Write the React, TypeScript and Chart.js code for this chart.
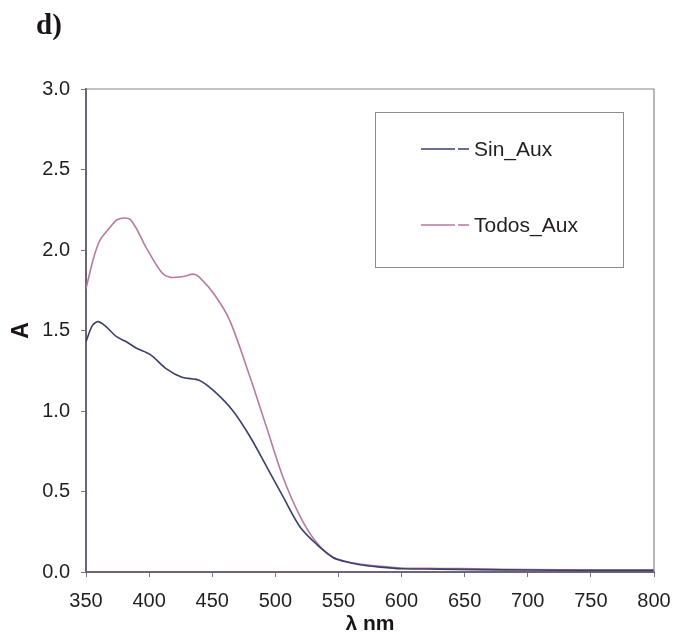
import React, { useEffect, useRef } from "react";
import { Chart, registerables } from "chart.js";

Chart.register(...registerables);

const sinWavelengths = [350, 355, 359.5, 365, 374.5, 382, 390, 401, 414, 426, 440, 452, 466.5, 480, 493.4, 506, 519.6, 533, 545.7, 555, 567, 583, 600, 630, 660, 700, 750, 800];
const sinValues = [1.43, 1.53, 1.555, 1.53, 1.46, 1.43, 1.39, 1.35, 1.26, 1.21, 1.19, 1.12, 1.0, 0.84, 0.65, 0.47, 0.28, 0.17, 0.09, 0.065, 0.045, 0.03, 0.02, 0.018, 0.015, 0.012, 0.01, 0.01];

const todosWavelengths = [350, 356, 361, 369, 375, 385, 398, 410, 417, 427, 435, 440, 452, 464, 480, 493, 506, 520, 533, 546, 556, 567, 583, 600, 630, 660, 700, 750, 800];
const todosValues = [1.76, 1.95, 2.06, 2.14, 2.19, 2.19, 2.01, 1.86, 1.83, 1.835, 1.85, 1.83, 1.72, 1.56, 1.21, 0.9, 0.59, 0.34, 0.18, 0.09, 0.065, 0.05, 0.035, 0.025, 0.022, 0.02, 0.015, 0.012, 0.012];

const seriesNames = ["Sin_Aux", "Todos_Aux"];
const seriesColors = ["#3b3f6e", "#b87a9f"];
const xTitle = "λ nm";
const yTitle = "A";
const panelLabel = "d)";

const FONT = "Arial, 'Liberation Sans', sans-serif";

export default function App() {
  const ref = useRef<HTMLCanvasElement | null>(null);
  useEffect(() => {
    if (!ref.current) return;
    const framePlugin = {
      id: "frameAndLegend",
      afterDraw(chart: any) {
        const { ctx, chartArea } = chart;
        ctx.save();
        // top and right border
        ctx.strokeStyle = "#8a8590";
        ctx.lineWidth = 1.2;
        ctx.beginPath();
        ctx.moveTo(chartArea.left, chartArea.top);
        ctx.lineTo(chartArea.right, chartArea.top);
        ctx.lineTo(chartArea.right, chartArea.bottom);
        ctx.stroke();
        // legend box
        ctx.strokeStyle = "#8c8c8c";
        ctx.lineWidth = 1;
        ctx.strokeRect(375.5, 112.5, 248, 155);
        const ys = [149, 225];
        ctx.font = `21px ${FONT}`;
        ctx.textBaseline = "middle";
        ctx.textAlign = "left";
        seriesNames.forEach((name, i) => {
          ctx.strokeStyle = seriesColors[i];
          ctx.lineWidth = 1.5;
          ctx.beginPath();
          ctx.moveTo(421, ys[i]);
          ctx.lineTo(455, ys[i]);
          ctx.moveTo(458, ys[i]);
          ctx.lineTo(469, ys[i]);
          ctx.stroke();
          ctx.fillStyle = "#231f20";
          ctx.fillText(name, 474, ys[i] + 1);
        });
        // panel label
        ctx.font = "bold 29px 'Liberation Serif', 'Times New Roman', serif";
        ctx.fillStyle = "#1a1416";
        ctx.textBaseline = "alphabetic";
        ctx.fillText(panelLabel, 36, 34);
        ctx.restore();
      },
    };
    const chart = new Chart(ref.current, {
      type: "scatter",
      data: {
        datasets: [
          {
            label: seriesNames[0],
            data: sinWavelengths.map((x, i) => ({ x, y: sinValues[i] })),
            showLine: true,
            borderColor: seriesColors[0],
            borderWidth: 1.6,
            pointRadius: 0,
            tension: 0.3,
          },
          {
            label: seriesNames[1],
            data: todosWavelengths.map((x, i) => ({ x, y: todosValues[i] })),
            showLine: true,
            borderColor: seriesColors[1],
            borderWidth: 1.6,
            pointRadius: 0,
            tension: 0.3,
          },
        ],
      },
      plugins: [framePlugin],
      options: {
        animation: false,
        responsive: true,
        maintainAspectRatio: false,
        layout: { padding: { left: 0, right: 35, top: 89, bottom: 0 } },
        plugins: { legend: { display: false }, tooltip: { enabled: false } },
        scales: {
          x: {
            type: "linear",
            min: 350,
            max: 800,
            afterFit: (s: any) => { s.height = 64; },
            ticks: { stepSize: 50, color: "#231f20", font: { family: FONT, size: 20 }, padding: 12 },
            grid: { drawOnChartArea: false, drawTicks: true, tickLength: 5, color: "#7a7380" },
            border: { display: true, color: "#6e6474", width: 2 },
            title: { display: true, text: xTitle, color: "#1a1416", font: { family: FONT, size: 21, weight: "bold", lineHeight: 1.1 }, padding: { top: 0, bottom: 0 } },
          },
          y: {
            min: 0,
            max: 3,
            afterFit: (s: any) => { s.width = 86; },
            ticks: { stepSize: 0.5, color: "#231f20", font: { family: FONT, size: 20 }, padding: 11, callback: (v: any) => Number(v).toFixed(1) },
            grid: { drawOnChartArea: false, drawTicks: true, tickLength: 5, color: "#7a7380" },
            border: { display: true, color: "#6e6474", width: 2 },
            title: { display: true, text: yTitle, color: "#1a1416", font: { family: FONT, size: 23, weight: "bold", lineHeight: 1.2 }, padding: { top: 8, bottom: 0 } },
          },
        },
      },
    });
    return () => chart.destroy();
  }, []);
  return (
    <div style={{ position: "fixed", left: 0, top: 0, width: 689, height: 636, background: "#fff" }}>
      <canvas ref={ref} />
    </div>
  );
}
